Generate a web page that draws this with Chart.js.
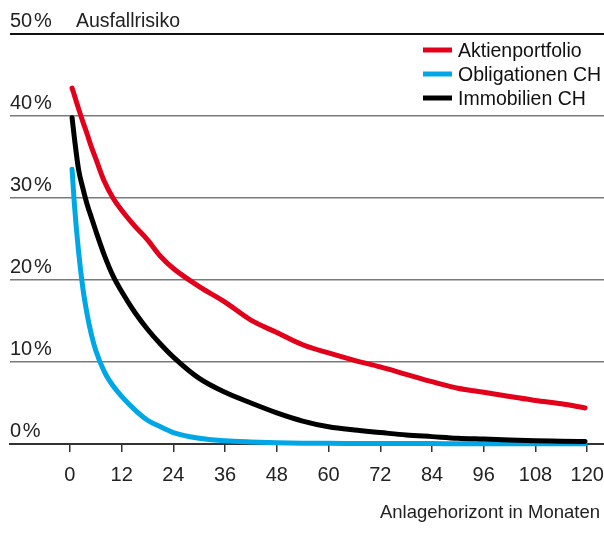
<!DOCTYPE html>
<html>
<head>
<meta charset="utf-8">
<script src="https://cdn.jsdelivr.net/npm/chart.js@4.4.1/dist/chart.umd.min.js"></script>
<style>
  html, body { margin: 0; padding: 0; background: #fff; }
  #chart { display: block; }
</style>
</head>
<body>
<canvas id="chart" width="604" height="551"></canvas>
<script>
// Monate (x) und Ausfallrisiko in % (y)
var months = [0.5, 1, 2, 3, 4, 5, 6, 8, 10, 12, 15, 18, 21, 24, 30, 36, 42, 48, 54, 60, 66, 72, 78, 84, 90, 96, 102, 108, 114, 119.5];
var aktienportfolio = [43.4, 42.6, 40.9, 39.3, 37.8, 36.2, 34.8, 32.0, 30.0, 28.5, 26.6, 24.9, 22.9, 21.4, 19.2, 17.3, 15.1, 13.6, 12.1, 11.1, 10.2, 9.4, 8.5, 7.6, 6.8, 6.3, 5.8, 5.3, 4.9, 4.4];
var obligationenCH = [33.5, 29.5, 23.5, 19.0, 15.8, 13.3, 11.4, 8.8, 7.1, 5.8, 4.2, 2.9, 2.1, 1.4, 0.7, 0.4, 0.25, 0.15, 0.1, 0.08, 0.07, 0.06, 0.05, 0.05, 0.04, 0.04, 0.03, 0.03, 0.03, 0.03];
var immobilienCH = [39.8, 37.5, 33.5, 31.2, 29.2, 27.6, 26.0, 23.0, 20.5, 18.6, 16.1, 14.0, 12.2, 10.6, 8.0, 6.3, 5.0, 3.8, 2.8, 2.1, 1.7, 1.4, 1.1, 0.9, 0.7, 0.6, 0.5, 0.4, 0.35, 0.3];

var seriesNames = ['Aktienportfolio', 'Obligationen CH', 'Immobilien CH'];
var seriesColors = ['#e2001a', '#00a7e7', '#000000'];
var xTicks = [0, 12, 24, 36, 48, 60, 72, 84, 96, 108, 120];
var yTicks = [0, 10, 20, 30, 40, 50];

var FONT = '"Liberation Sans", Arial, sans-serif';

function toPoints(values) {
    return values.map(function(v, i) { return { x: months[i], y: v }; });
}

// Beschriftungen, Legende und Achsentitel
var textPlugin = {
    id: 'texts',
    afterDraw: function(chart) {
        var ctx = chart.ctx;
        var yScale = chart.scales.y;
        ctx.save();
        ctx.fillStyle = '#222';
        ctx.font = '20px ' + FONT;
        ctx.textBaseline = 'alphabetic';
        ctx.textAlign = 'left';
        yTicks.forEach(function(v) {
            var y = yScale.getPixelForValue(v);
            ctx.fillText(v + '\u200A%', 10, y - 7);
        });
        ctx.font = '19.5px ' + FONT;
        ctx.fillText('Ausfallrisiko', 76, yScale.getPixelForValue(50) - 7);

        // x-Achsentitel
        ctx.textAlign = 'right';
        ctx.font = '18.5px ' + FONT;
        ctx.fillText('Anlagehorizont in Monaten', 600, 518);

        // Legende
        ctx.textAlign = 'left';
        ctx.font = '19.5px ' + FONT;
        var ly = [50, 74, 98];
        seriesNames.forEach(function(name, i) {
            ctx.strokeStyle = seriesColors[i];
            ctx.lineWidth = 5;
            ctx.lineCap = 'butt';
            ctx.beginPath();
            ctx.moveTo(423, ly[i]);
            ctx.lineTo(452, ly[i]);
            ctx.stroke();
            ctx.fillStyle = '#111';
            ctx.fillText(name, 458, ly[i] + 7);
        });
        ctx.restore();
    }
};

var data = {
    datasets: [
        { label: seriesNames[0], data: toPoints(aktienportfolio), borderColor: seriesColors[0], order: 3 },
        { label: seriesNames[1], data: toPoints(obligationenCH), borderColor: seriesColors[1], order: 2 },
        { label: seriesNames[2], data: toPoints(immobilienCH), borderColor: seriesColors[2], order: 1 }
    ]
};
data.datasets.forEach(function(ds) {
    ds.borderWidth = 5;
    ds.pointRadius = 0;
    ds.cubicInterpolationMode = 'monotone';
    ds.borderCapStyle = 'round';
    ds.borderJoinStyle = 'round';
    ds.fill = false;
    ds.clip = false;
});

var chart = new Chart(document.getElementById('chart').getContext('2d'), {
    type: 'line',
    data: data,
    plugins: [textPlugin],
    options: {
        responsive: false,
        animation: false,
        devicePixelRatio: 1,
        layout: { padding: { left: 10, right: 0, top: 34, bottom: 0 } },
        plugins: {
            legend: { display: false },
            tooltip: { enabled: false }
        },
        scales: {
            x: {
                type: 'linear',
                min: -13.9,
                max: 123.9,
                afterBuildTicks: function(scale) {
                    scale.ticks = xTicks.map(function(v) { return { value: v }; });
                },
                afterFit: function(scale) {
                    scale.height = 107;
                    scale.paddingLeft = 0;
                    scale.paddingRight = 0;
                },
                grid: {
                    drawOnChartArea: false,
                    drawTicks: true,
                    tickLength: 8,
                    color: '#333',
                    lineWidth: 1.5
                },
                border: { display: true, color: '#333', width: 2 },
                ticks: {
                    padding: 11,
                    maxRotation: 0,
                    autoSkip: false,
                    color: '#222',
                    font: { family: FONT, size: 20 }
                }
            },
            y: {
                min: 0,
                max: 50,
                afterBuildTicks: function(scale) {
                    scale.ticks = yTicks.map(function(v) { return { value: v }; });
                },
                afterFit: function(scale) { scale.width = 0; },
                ticks: { display: false },
                border: { display: false },
                grid: {
                    drawTicks: false,
                    color: function(c) {
                        if (c.tick && c.tick.value === 50) return '#111';
                        if (c.tick && c.tick.value === 0) return '#333';
                        return '#7a7a7a';
                    },
                    lineWidth: function(c) {
                        return (c.tick && c.tick.value === 50) ? 2 : 1.5;
                    }
                }
            }
        }
    }
});
</script>
</body>
</html>
